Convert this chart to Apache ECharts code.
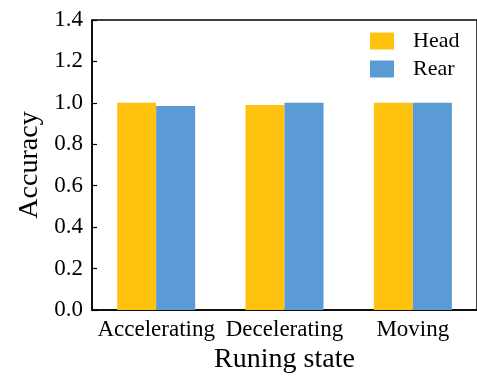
<!DOCTYPE html>
<html><head><meta charset="utf-8">
<script src="https://cdn.jsdelivr.net/npm/echarts@6/dist/echarts.min.js"></script>
<style>html,body{margin:0;padding:0;background:#fff}#c{width:477px;height:379px}</style>
</head><body><div id="c"></div>
<script>
const categories = ['Accelerating', 'Decelerating', 'Moving'];
const headValues = [1.0, 0.99, 1.0];
const rearValues = [0.985, 1.0, 1.001];
const yTicks = [0.0, 0.2, 0.4, 0.6, 0.8, 1.0, 1.2, 1.4];

const font = 'Liberation Serif';
const chart = echarts.init(document.getElementById('c'), null, {renderer: 'canvas'});
chart.setOption({
  animation: false,
  grid: {left: 92, top: 20, right: 0, bottom: 69, show: true, borderColor: '#000', borderWidth: 1.5,
    backgroundColor: 'transparent', containLabel: false, outerBoundsMode: 'none'},
  legend: {
    data: ['Head', 'Rear'], orient: 'vertical', left: 365, top: 25,
    itemWidth: 24, itemHeight: 17, itemGap: 6,
    textStyle: {fontFamily: font, fontSize: 22, color: '#000', padding: [0, 0, 0, 14]},
    icon: 'rect'
  },
  xAxis: {
    type: 'category', data: categories,
    axisLine: {lineStyle: {color: '#000', width: 1.5}},
    axisTick: {show: false},
    axisLabel: {fontFamily: font, fontSize: 23, color: '#000', margin: 8, interval: 0},
    name: 'Runing state', nameLocation: 'middle', nameGap: 36,
    nameTextStyle: {fontFamily: font, fontSize: 28, color: '#000'}
  },
  yAxis: {
    type: 'value', min: 0, max: 1.4, interval: 0.2,
    splitLine: {show: false},
    axisLine: {show: true, lineStyle: {color: '#000', width: 1.5}},
    axisTick: {show: true, inside: true, length: 5, lineStyle: {color: '#000', width: 1.2}},
    axisLabel: {fontFamily: font, fontSize: 23, color: '#000', margin: 9,
      formatter: v => (yTicks.find(t => Math.abs(t - v) < 1e-9) ?? v).toFixed(1)},
    name: 'Accuracy', nameLocation: 'middle', nameGap: 48,
    nameTextStyle: {fontFamily: font, fontSize: 28, color: '#000'}
  },
  series: [
    {name: 'Head', type: 'bar', data: headValues, barWidth: 39, barGap: '0%', itemStyle: {color: '#FFC20E'}},
    {name: 'Rear', type: 'bar', data: rearValues, barWidth: 39, barGap: '0%', itemStyle: {color: '#5B9BD5'}}
  ]
});
</script></body></html>
